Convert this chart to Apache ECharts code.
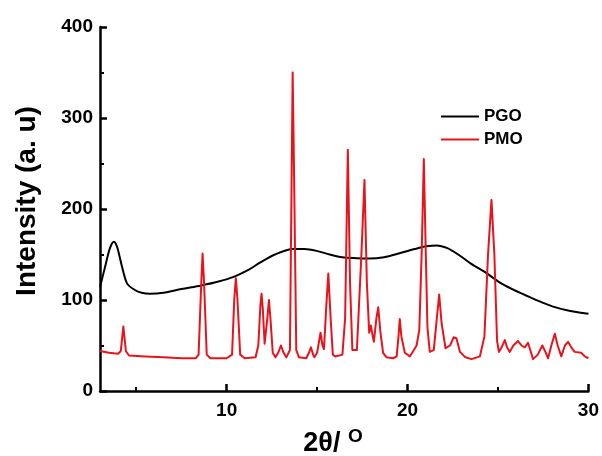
<!DOCTYPE html>
<html>
<head>
<meta charset="utf-8">
<script src="https://cdn.jsdelivr.net/npm/echarts@6/dist/echarts.min.js"></script>
<style>
  html, body { margin: 0; padding: 0; background: #fff; }
  #chart { width: 602px; height: 456px; }
</style>
</head>
<body>
<div id="chart"></div>
<script>
// XRD patterns: 2θ (degrees) and intensity (a.u.)
const pgoTheta = [3.0, 3.3, 3.55, 3.77, 3.95, 4.2, 4.5, 4.93, 5.3, 5.76, 6.5, 7.5, 8.6, 9.5, 10.46, 11.2, 11.84, 12.67, 13.67, 14.3, 14.97, 15.7, 16.4, 17.2, 17.9, 18.7, 19.6, 20.4, 21.04, 21.6, 22.2, 22.8, 23.5, 24.36, 25.2, 26.2, 27.0, 28.0, 29.0, 30.0];
const pgoIntensity = [114, 138, 157, 164, 158, 138, 118, 111, 108, 107, 108, 112, 116, 120, 126, 133, 141, 150, 156, 156, 154, 150, 147, 146, 145.5, 147, 151.6, 156, 159, 160, 157, 150, 140, 129.6, 118, 108, 101, 93, 88, 85];

const pmoTheta = [3.0, 3.5, 4.0, 4.15, 4.29, 4.43, 4.6, 5.5, 6.5, 7.5, 8.3, 8.45, 8.6, 8.67, 8.75, 8.9, 9.1, 10.0, 10.3, 10.42, 10.51, 10.6, 10.75, 11.0, 11.6, 11.75, 11.87, 11.93, 12.0, 12.1, 12.15, 12.25, 12.34, 12.42, 12.55, 12.7, 12.85, 13.0, 13.15, 13.3, 13.5, 13.6, 13.65, 13.72, 13.85, 14.0, 14.4, 14.55, 14.66, 14.78, 14.85, 15.0, 15.19, 15.3, 15.38, 15.5, 15.62, 15.75, 15.87, 16.0, 16.4, 16.55, 16.7, 16.82, 16.95, 17.05, 17.2, 17.45, 17.62, 17.75, 17.88, 17.97, 18.06, 18.14, 18.28, 18.38, 18.5, 18.65, 18.84, 19.2, 19.4, 19.5, 19.57, 19.66, 19.85, 20.13, 20.35, 20.5, 20.65, 20.78, 20.9, 21.0, 21.1, 21.23, 21.45, 21.62, 21.75, 21.88, 22.1, 22.35, 22.55, 22.7, 22.9, 23.2, 23.54, 24.0, 24.25, 24.45, 24.64, 24.8, 24.95, 25.05, 25.2, 25.38, 25.5, 25.65, 25.85, 26.1, 26.3, 26.48, 26.66, 26.8, 26.94, 27.2, 27.45, 27.6, 27.77, 27.95, 28.14, 28.3, 28.5, 28.7, 28.87, 29.05, 29.24, 29.6, 29.8, 29.9, 30.0];
const pmoIntensity = [44, 42, 41, 44, 71, 44, 39, 38, 37, 36, 36, 40, 120, 151, 120, 40, 36, 36, 40, 100, 124, 100, 40, 36, 37, 50, 95, 107, 90, 52, 50, 80, 100, 80, 42, 37, 42, 50, 42, 37, 45, 250, 350, 250, 45, 37, 36, 42, 48, 40, 37, 42, 64, 50, 46, 90, 129, 80, 40, 38, 40, 80, 265, 120, 45, 43, 45, 150, 232, 120, 64, 72, 62, 54, 80, 92, 65, 42, 37, 36, 38, 60, 79, 60, 42, 38, 45, 50, 67, 150, 255, 160, 70, 43, 45, 80, 106, 75, 47, 50, 59, 58, 43, 37, 35, 38, 60, 150, 210, 150, 55, 43, 48, 56, 48, 43, 50, 55, 50, 48, 53, 44, 35, 40, 50, 44, 36, 50, 63, 50, 38, 50, 54, 48, 43, 42, 38, 39, 36];

const xMajorTicks = [10, 20, 30];
const xMinorTicks = [5, 15, 25];

const pairs = (xs, ys) => xs.map((x, i) => [x, ys[i]]);

const FONT = 'Liberation Sans, Arial, sans-serif';
const chart = echarts.init(document.getElementById('chart'), null, { renderer: 'canvas' });

const axisLine = { show: true, onZero: false, lineStyle: { color: '#000', width: 2.5 } };
const tickLabel = { fontFamily: FONT, fontWeight: 'bold', fontSize: 19, color: '#000' };

chart.setOption({
  backgroundColor: '#fff',
  animation: false,
  grid: { left: 100, right: 12, top: 27, bottom: 65, containLabel: false },
  legend: {
    orient: 'vertical',
    left: 436,
    top: 103,
    itemWidth: 38,
    itemHeight: 2,
    itemGap: 6,
    icon: 'rect',
    textStyle: { fontFamily: FONT, fontWeight: 'bold', fontSize: 17, color: '#000', lineHeight: 17 },
    data: ['PGO', 'PMO']
  },
  graphic: [
    {
      type: 'text',
      x: 27,
      y: 201,
      rotation: Math.PI / 2,
      style: {
        text: 'Intensity (a. u)',
        fontFamily: FONT, fontWeight: 'bold', fontSize: 28, fill: '#000',
        align: 'center', verticalAlign: 'middle'
      }
    },
    {
      type: 'text',
      x: 333,
      y: 457,
      style: {
        text: '{a|2θ/ }{b|O}',
        align: 'center', verticalAlign: 'bottom',
        rich: {
          a: { fontFamily: FONT, fontWeight: 'bold', fontSize: 27, fill: '#000', verticalAlign: 'bottom', lineHeight: 30 },
          b: { fontFamily: FONT, fontWeight: 'bold', fontSize: 19, fill: '#000', verticalAlign: 'top', lineHeight: 30 }
        }
      }
    }
  ],
  xAxis: [
    {
      type: 'value',
      min: 3,
      max: 30,
      axisLine: axisLine,
      splitLine: { show: false },
      axisTick: { show: true, inside: true, length: 7, customValues: xMajorTicks, lineStyle: { color: '#000', width: 2.5 } },
      axisLabel: Object.assign({ customValues: xMajorTicks, margin: 10 }, tickLabel)
    },
    {
      type: 'value',
      min: 3,
      max: 30,
      position: 'bottom',
      axisLine: { show: false },
      splitLine: { show: false },
      axisTick: { show: true, inside: true, length: 4, customValues: xMinorTicks, lineStyle: { color: '#000', width: 2 } },
      axisLabel: { show: false }
    }
  ],
  yAxis: {
    type: 'value',
    min: 0,
    max: 400,
    interval: 100,
    axisLine: axisLine,
    splitLine: { show: false },
    axisTick: { show: true, inside: true, length: 7, lineStyle: { color: '#000', width: 2.5 } },
    minorTick: { show: true, splitNumber: 2, length: 4, lineStyle: { color: '#000', width: 2 } },
    axisLabel: Object.assign({ margin: 7 }, tickLabel)
  },
  series: [
    {
      name: 'PGO',
      type: 'line',
      data: pairs(pgoTheta, pgoIntensity),
      showSymbol: false,
      smooth: 0.3,
      lineStyle: { color: '#000', width: 2 },
      itemStyle: { color: '#000' },
      z: 3
    },
    {
      name: 'PMO',
      type: 'line',
      data: pairs(pmoTheta, pmoIntensity),
      showSymbol: false,
      smooth: false,
      lineStyle: { color: '#e8141c', width: 2, join: 'round' },
      itemStyle: { color: '#e8141c' },
      z: 4
    }
  ]
});
</script>
</body>
</html>
